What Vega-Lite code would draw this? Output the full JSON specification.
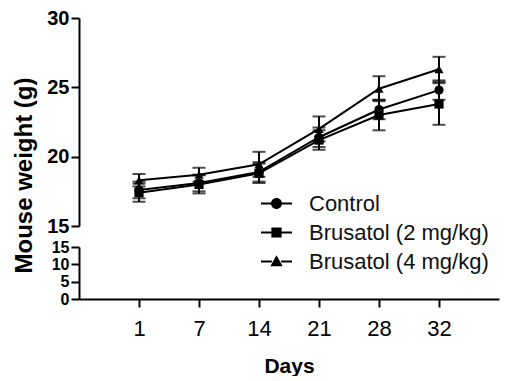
{
  "$schema": "https://vega.github.io/schema/vega-lite/v6.json",
  "background": "white",
  "padding": {"left": 12, "top": 8, "right": 5, "bottom": 0},
  "bounds": "flush",
  "config": {
    "view": {"stroke": null},
    "font": "Liberation Sans",
    "axis": {
      "domainColor": "black", "domainWidth": 2, "tickColor": "black", "tickWidth": 2, "tickSize": 8,
      "labelColor": "black", "titleColor": "black", "grid": false, "labelFont": "Liberation Sans", "titleFont": "Liberation Sans"
    }
  },
  "datasets": {
    "w": [
      {"group": "Control", "day": "1", "weight": 17.6, "err": 0.6},
      {"group": "Control", "day": "7", "weight": 18.1, "err": 0.6},
      {"group": "Control", "day": "14", "weight": 18.9, "err": 0.7},
      {"group": "Control", "day": "21", "weight": 21.4, "err": 0.7},
      {"group": "Control", "day": "28", "weight": 23.4, "err": 0.7},
      {"group": "Control", "day": "32", "weight": 24.8, "err": 0.7},
      {"group": "Brusatol (2 mg/kg)", "day": "1", "weight": 17.4, "err": 0.65},
      {"group": "Brusatol (2 mg/kg)", "day": "7", "weight": 18.0, "err": 0.65},
      {"group": "Brusatol (2 mg/kg)", "day": "14", "weight": 18.8, "err": 0.7},
      {"group": "Brusatol (2 mg/kg)", "day": "21", "weight": 21.2, "err": 0.7},
      {"group": "Brusatol (2 mg/kg)", "day": "28", "weight": 23.0, "err": 1.1},
      {"group": "Brusatol (2 mg/kg)", "day": "32", "weight": 23.8, "err": 1.5},
      {"group": "Brusatol (4 mg/kg)", "day": "1", "weight": 18.3, "err": 0.45},
      {"group": "Brusatol (4 mg/kg)", "day": "7", "weight": 18.7, "err": 0.5},
      {"group": "Brusatol (4 mg/kg)", "day": "14", "weight": 19.45, "err": 0.9},
      {"group": "Brusatol (4 mg/kg)", "day": "21", "weight": 22.0, "err": 0.9},
      {"group": "Brusatol (4 mg/kg)", "day": "28", "weight": 24.9, "err": 0.9},
      {"group": "Brusatol (4 mg/kg)", "day": "32", "weight": 26.3, "err": 0.9}
    ]
  },
  "spacing": 21,
  "resolve": {"scale": {"y": "independent"}},
  "vconcat": [
    {
      "width": 420,
      "height": 208,
      "data": {"name": "w"},
      "encoding": {
        "x": {"field": "day", "type": "ordinal", "scale": {"type": "point", "domain": ["1", "7", "14", "21", "28", "32"], "padding": 1}, "axis": null},
        "y": {
          "field": "weight", "type": "quantitative",
          "scale": {"domain": [15, 30], "nice": false, "zero": false},
          "axis": {
            "values": [15, 20, 25, 30], "title": "Mouse weight (g)", "labelFontSize": 20, "labelFontWeight": "bold",
            "labelPadding": 2, "labelFlush": false, "titleFontSize": 24, "titleFontWeight": "bold",
            "titleX": -55, "titleY": 157, "titleBaseline": "middle", "titleAngle": -90
          }
        }
      },
      "resolve": {"scale": {"shape": "independent"}, "legend": {"shape": "independent"}},
      "layer": [
        {"mark": {"type": "line", "color": "black", "strokeWidth": 2}, "encoding": {"detail": {"field": "group"}}},
        {
          "mark": {"type": "errorbar", "ticks": {"size": 13, "thickness": 2, "color": "black"}, "rule": {"strokeWidth": 2, "color": "black"}},
          "encoding": {"yError": {"field": "err"}, "detail": {"field": "group"}}
        },
        {
          "mark": {"type": "point", "filled": true, "color": "black", "opacity": 1, "size": 85},
          "encoding": {
            "shape": {
              "field": "group", "type": "nominal",
              "scale": {"domain": ["Control", "Brusatol (2 mg/kg)", "Brusatol (4 mg/kg)"], "range": ["circle", "square", "triangle-up"]},
              "legend": null
            }
          }
        },
        {
          "transform": [{"filter": "false"}],
          "mark": {"type": "point", "filled": true, "color": "black", "opacity": 1},
          "encoding": {
            "shape": {
              "field": "group", "type": "nominal",
              "scale": {
                "domain": ["Control", "Brusatol (2 mg/kg)", "Brusatol (4 mg/kg)"],
                "range": [
                  "M-1,-0.065H-0.3V0.065H-1Z M0.3,-0.065H1V0.065H0.3Z M-0.355,0A0.355,0.355 0 1,1 0.355,0A0.355,0.355 0 1,1 -0.355,0Z",
                  "M-1,-0.065H-0.3V0.065H-1Z M0.3,-0.065H1V0.065H0.3Z M-0.33,-0.33H0.33V0.33H-0.33Z",
                  "M-1,-0.065H-0.3V0.065H-1Z M0.3,-0.065H1V0.065H0.3Z M0,-0.4L0.4,0.3H-0.4Z"
                ]
              },
              "legend": {
                "orient": "none", "legendX": 182, "legendY": 170, "title": null, "padding": 0,
                "symbolSize": 961, "symbolFillColor": "black", "symbolStrokeWidth": 0, "symbolOpacity": 1,
                "labelFontSize": 22, "labelColor": "#111", "labelOffset": 17, "rowPadding": 2, "labelLimit": 0
              }
            }
          }
        }
      ]
    },
    {
      "width": 420,
      "height": 52,
      "data": {"name": "w"},
      "mark": {"type": "point", "opacity": 0},
      "encoding": {
        "x": {
          "field": "day", "type": "ordinal", "scale": {"type": "point", "domain": ["1", "7", "14", "21", "28", "32"], "padding": 1},
          "axis": {"title": "Days", "labelAngle": 0, "labelFontSize": 22, "labelPadding": 11, "titleFontSize": 21, "titleFontWeight": "bold", "titlePadding": 16}
        },
        "y": {
          "field": "weight", "type": "quantitative",
          "scale": {"domain": [0, 15], "nice": false, "zero": false},
          "axis": {"values": [0, 5, 10, 15], "title": null, "labelFontSize": 16, "labelFontWeight": "bold", "labelPadding": 2, "labelFlush": false, "labelOverlap": false}
        }
      }
    }
  ]
}
